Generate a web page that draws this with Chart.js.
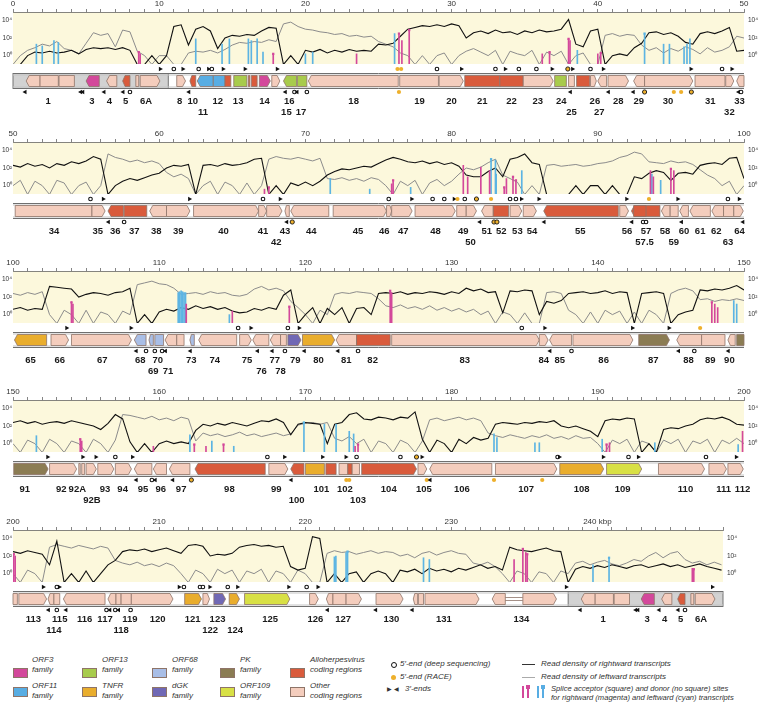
<!DOCTYPE html>
<html>
<head>
<meta charset="utf-8">
<script src="https://cdn.jsdelivr.net/npm/chart.js@4.4.1/dist/chart.umd.min.js"></script>
<style>
  body { margin: 0; background: #fff; font-family: "Liberation Sans", Arial, sans-serif; }
  #wrap { position: relative; width: 760px; height: 703px; overflow: hidden; }
  .panel { position: absolute; left: 0; width: 760px; height: 122px; }
  .lg { position: absolute; font-style: italic; font-size: 8px; line-height: 10px; color: #333; white-space: nowrap; }
  .sw { position: absolute; width: 15px; height: 10px; border: 1px solid #8e7468; box-sizing: border-box; }
</style>
</head>
<body>
<div id="wrap">
  <div class="panel" style="top:0px"><canvas id="p1" width="760" height="122"></canvas></div>
  <div class="panel" style="top:130px"><canvas id="p2" width="760" height="122"></canvas></div>
  <div class="panel" style="top:259px"><canvas id="p3" width="760" height="122"></canvas></div>
  <div class="panel" style="top:388px"><canvas id="p4" width="760" height="122"></canvas></div>
  <div class="panel" style="top:518px"><canvas id="p5" width="760" height="122"></canvas></div>

  <!-- legend: gene families -->
  <div class="sw" style="left:13px;top:668px;background:#d3489b"></div>
  <div class="lg" style="left:32px;top:655px">ORF3<br>family</div>
  <div class="sw" style="left:82px;top:668px;background:#a8cb4c"></div>
  <div class="lg" style="left:102px;top:655px">ORF13<br>family</div>
  <div class="sw" style="left:152px;top:668px;background:#a9bee6"></div>
  <div class="lg" style="left:172px;top:655px">ORF68<br>family</div>
  <div class="sw" style="left:220px;top:668px;background:#8b7c53"></div>
  <div class="lg" style="left:240px;top:655px">PK<br>family</div>
  <div class="sw" style="left:290px;top:668px;background:#d95b3c"></div>
  <div class="lg" style="left:310px;top:655px">Alloherpesvirus<br>coding regions</div>

  <div class="sw" style="left:13px;top:687px;background:#58ade3"></div>
  <div class="lg" style="left:32px;top:681px">ORF11<br>family</div>
  <div class="sw" style="left:82px;top:687px;background:#e9ad2d"></div>
  <div class="lg" style="left:102px;top:681px">TNFR<br>family</div>
  <div class="sw" style="left:152px;top:687px;background:#7068b5"></div>
  <div class="lg" style="left:172px;top:681px">dGK<br>family</div>
  <div class="sw" style="left:220px;top:687px;background:#d8e045"></div>
  <div class="lg" style="left:240px;top:681px">ORF109<br>family</div>
  <div class="sw" style="left:290px;top:687px;background:#f4cdbd"></div>
  <div class="lg" style="left:310px;top:681px">Other<br>coding regions</div>

  <!-- legend: ends -->
  <div style="position:absolute;left:391px;top:662px;width:4px;height:4px;border:1px solid #111;border-radius:50%"></div>
  <div class="lg" style="left:400px;top:659px">5′-end (deep sequencing)</div>
  <div style="position:absolute;left:391px;top:675px;width:5px;height:5px;background:#eeb02c;border-radius:50%"></div>
  <div class="lg" style="left:400px;top:672px">5′-end (RACE)</div>
  <div class="lg" style="left:387px;top:684px;font-style:normal;font-size:6px">&#9654; &#9664;</div>
  <div class="lg" style="left:405px;top:684px">3′-ends</div>

  <!-- legend: read density and splice sites -->
  <div style="position:absolute;left:522px;top:664px;width:13px;height:1px;background:#333"></div>
  <div class="lg" style="left:541px;top:659px">Read density of rightward transcripts</div>
  <div style="position:absolute;left:522px;top:677px;width:13px;height:1px;background:#aaa"></div>
  <div class="lg" style="left:541px;top:672px">Read density of leftward transcripts</div>
  <div style="position:absolute;left:522px;top:686px;width:1.5px;height:12px;background:#d3489b"></div>
  <div style="position:absolute;left:527px;top:686px;width:1.5px;height:12px;background:#d3489b"></div>
  <div style="position:absolute;left:526px;top:685px;width:3.5px;height:3.5px;background:#d3489b"></div>
  <div style="position:absolute;left:537px;top:686px;width:1.5px;height:12px;background:#58ade3"></div>
  <div style="position:absolute;left:542px;top:686px;width:1.5px;height:12px;background:#58ade3"></div>
  <div style="position:absolute;left:541px;top:685px;width:3.5px;height:3.5px;background:#58ade3"></div>
  <div class="lg" style="left:551px;top:684px;font-size:7.6px;line-height:9px">Splice acceptor (square) and donor (no square) sites<br>for rightward (magenta) and leftward (cyan) transcripts</div>
</div>

<script>
// read density, log10 values sampled every 0.5 kbp (-1 = no reads)
const STEP = 0.5;

const right1 = [-1,-1,0,0.4,0.3,0.5,0.3,0.4,0.6,0.2, 0.7,0.9,0.8,0.9,0.7,0.9,0.6,-1,-1,0, -1,0,3.3,3.5,1.2,3.0,3.3,2.8,0.8,2.0,
  2.3,2.2,2.4,2.3,2.8,3.2,3.1,-1,0,-1, 0.6,0.4,0.7,0.3,0.6,0.4,0.7,0.5,0.6,0.5, 1.3,1.2,1.4,2.2,3.0,3.2,3.4,3.3,3.5,3.3,
  3.6,3.4,2.0,2.6,2.8,2.5,2.9,2.6,2.7,2.4, 2.8,2.6,2.9,2.7,2.8,3.0,4.1,1.3,1.0,2.8, 3.0,-1,0,0.2,0,0.9,1.4,2.6,2.7,2.4,
  2.6,2.2,1.5,1.3,2.5,2.7,2.5,2.8,3.2,0.5, 0.6];
const left1 = [-1,0,0.6,0.9,1.3,1.1,1.6,0.8,0.6,0.2, 1.4,2.6,2.3,2.5,1.0,2.9,2.7,0.5,0,-1, 0,0,-1,-1,0.3,0.5,0.4,0.6,0.3,0.7,
  1.2,1.5,1.4,1.6,1.5,1.8,1.6,3.6,3.8,3.3, 3.0,2.9,2.7,2.6,2.4,2.5,2.2,2.3,2.1,2.2, 1.6,1.3,1.0,0.3,0,-1,0,-1,0,0.3,
  -1,0,0.5,0.8,0.4,0,0.6,-1,0.5,0.2, 0,0.6,-1,0.4,0,0.5,-1,0,0.3,-1, -1,2.3,2.5,2.2,2.4,2.3,1.2,0.6,0.9,0.3,
  0.8,0.5,1.0,0.7,0.2,0.9,0.4,0.6,1.0,2.2, 2.0];

const right2 = [2.3,2.1,2.5,2.2,2.4,2.0,2.5,2.3,2.7,2.5, 2.8,3.3,3.0,-1,0,0.5,0.8,0.6,0.9,1.2, 1.4,2.0,2.3,2.2,2.4,-1,2.3,2.4,2.2,2.5,
  2.3,2.4,2.6,3.0,3.1,-1,0,-1,0.3,0, 0.4,0,0.5,1.2,1.6,1.9,1.8,2.0,2.2,2.1, 2.5,2.9,3.2,3.0,2.7,2.6,2.8,2.5,2.7,2.4,
  2.6,2.2,1.2,1.0,1.0,1.6,2.0,1.0,3.0,3.2, 3.6,2.6,2.4,-1,-1,-1,-1,0,-1,0, 0,-1,0,-1,-1,1.0,0.8,1.4,1.7,1.5,
  0.6,1.4,1.5,1.3,2.3,2.5,2.6,2.4,3.1,3.2, 0.8];
const left2 = [0,0.6,-1,0.5,0,-1,0.6,0.3,-1,0, 0.4,-1,0,3.6,3.2,3.0,2.7,2.9,2.6,2.8, 2.5,1.5,1.0,1.3,0.8,-1,0,0.5,-1,0.4,
  0,-1,0.3,-1,0,3.0,3.3,3.1,3.0,3.2, 3.0,2.8,3.1,0.8,0.7,0.9,0.6,0.8,0.5,0.9, 0.7,0,-1,0.5,0,0.6,-1,0.3,0.7,0,
  0.5,1.3,2.0,1.8,2.1,2.6,3.0,1.2,0.8,0.4, -1,0,-1,2.3,2.4,2.2,2.3,2.4,2.2,2.3, 2.5,2.6,2.8,3.2,3.4,3.8,3.6,2.7,2.6,2.5,
  2.8,2.6,2.7,2.4,1.8,1.2,0.8,0,0.5,-1, 0];

const right3 = [0.6,0.8,0.5,0.7,0.6,3.2,3.1,3.0,2.9,2.0, 2.3,2.5,2.4,2.2,2.5,2.6,3.0,-1,0,-1, 0.3,0.6,0.4,0.8,0.6,1.0,0.7,0.9,0.6,0.8,
  0.4,0.2,0.3,0.7,0.5,0.8,0.6,2.2,2.8,-1, 0,0.8,-1,0.7,0,0.8,-1,0.7,0.8,0, 2.4,2.5,2.4,2.6,2.3,2.5,2.4,2.6,2.5,2.3,
  2.6,2.4,3.0,2.7,2.9,2.5,2.6,0.2,2.7,2.6, 2.8,2.7,0,1.5,1.3,1.6,2.4,2.5,2.6,2.4, 2.5,2.7,2.4,2.6,2.5,-1,2.4,2.5,2.6,2.4,
  -1,0,0.3,0.5,2.8,2.7,2.9,2.8,3.0,3.3, 2.8];
const left3 = [2.4,2.2,2.5,2.3,2.6,0,-1,0.5,0,-1, 0.5,-1,0.3,0,-1,0.4,0,3.4,3.6,3.8, 3.5,3.4,3.0,2.3,2.4,2.5,2.3,2.6,2.4,2.5,
  2.2,2.1,2.3,2.9,3.2,2.8,3.0,2.7,1.5,0.8, 0,-1,0.5,0,2.3,2.5,2.4,2.6,2.5,2.4, 1.8,1.0,0.8,1.1,0.7,0.9,0.6,1.0,0.5,0.8,
  0.4,0.7,0.3,0.6,0,0.4,-1,0.3,0,-1, 0.2,-1,-1,2.5,2.6,2.4,0.5,0,-1,0.3, -1,0.5,0,0.4,-1,0.3,-1,0.5,0,-1,
  2.4,2.8,3.0,2.7,1.7,1.8,1.5,1.7,1.6,1.8, 1.6];

const right4 = [2.4,2.6,2.3,2.5,2.2,2.4,2.5,2.3,2.6,2.4, 2.2,2.0,1.6,2.3,3.3,2.8,0.2,-1,0,-1, 0,0.3,0,0.2,0,1.5,2.2,2.0,2.3,2.1,
  2.4,2.2,2.0,2.3,2.6,2.5,2.8,2.4,1.0,2.2, 2.4,2.3,2.2,0,2.2,2.4,3.3,3.5,2.8,2.7, 3.0,2.9,2.7,3.0,2.9,3.6,0.5,-1,0.4,0,
  -1,0.5,0,0.7,0.4,0.6,2.2,2.4,2.3,2.2, 2.4,2.3,2.5,2.4,2.6,2.0,1.8,2.0,1.7,1.4, 0.8,2.6,2.8,2.7,2.9,2.8,-1,0,-1,1.6,
  1.8,1.7,2.0,2.2,2.7,2.9,2.8,3.0,2.7,2.2, 2.1];
const left4 = [0,-1,0.4,0,-1,0.5,0,-1,0.3,0, -1,0.5,0,-1,0.4,3.3,3.2,3.0,2.8,3.1, 2.7,2.9,2.6,3.0,2.8,0.3,1.2,0.9,1.1,0.8,
  1.0,1.3,0.9,1.1,0.8,1.0,1.2,0.9,1.1,2.1, 2.3,2.4,2.2,2.4,0.6,0.3,0.8,0,0.5,-1, 0.3,0,-1,0.4,0,-1,0.3,2.7,2.9,2.6,
  2.8,3.0,2.7,2.9,2.6,1.2,0.9,0.7,1.0,0.8, 0.6,0.9,0.7,1.0,0.6,0.8,0.5,0.9,0.6,0.7, 0,-1,0.4,0,0.5,-1,0.3,0,-1,0.4,
  0,0.5,-1,0.3,0,0.5,-1,0.4,0,0.6, 0];

const right5 = [2.5,2.3,2.6,2.4,2.2,1.0,3.7,-1,0,-1, 0.3,-1,0,1.0,1.5,2.5,2.7,2.6,2.8,2.5, 2.7,2.9,2.6,2.3,3.2,3.3,3.1,2.0,2.2,2.1,
  2.3,3.0,3.2,3.3,3.1,3.2,3.0,3.1,0.8,0.4, 0.6,4.2,4.0,-1,0,-1,0,0.2,-1,0, 0.3,0,-1,0.4,0.2,0.5,0,0.6,0.3,0.5,
  0.2,0.6,0.4,0.7,1.0,0.6,0.8,0.4,3.0,2.7, 2.6,2.5,2.7,2.9,2.6,2.5,-1,0.5,0.8,0.6, 0.9,0.7,1.0,0.8,0.6,0.9,1.0,0.7,0.9,1.1,
  0.8,1.0,0.7,0.9,1.1,0.8,0.6,0.4];
const left5 = [0,-1,0.4,0,-1,3.0,3.3,3.1,2.9,3.2, 3.0,2.8,3.1,2.9,1.5,1.2,1.0,1.3,0.9,1.1, 0.8,1.2,0.9,0,-1,0.4,0,-1,0.5,0,
  0.4,-1,0.3,0,0.5,-1,0.3,0,-1,0.4, 0,-1,-1,2.3,2.6,2.4,2.5,2.2,2.4,2.6, 2.3,2.5,2.4,2.0,2.2,1.8,2.3,2.5,2.1,2.4,
  2.6,2.3,2.2,1.2,1.0,1.3,0.8,0,-1,0.3, 0,-1,0.2,0,-1,0.3,0,1.2,1.4,1.0, 1.3,1.5,1.1,0.9,1.2,1.6,1.4,2.0,2.4,1.8,
  2.3,2.5,1.6,1.2,1.4,1.0,1.3,1.0];

// splice sites: [kbp, log10 height, m = rightward / c = leftward, 1 = acceptor]
const splice1 = [[1.6,1.3,'c',0],[2.0,1.1,'c',0],[2.8,1.7,'c',0],[3.1,1.5,'c',0],[8.6,0.4,'m',1],[8.7,0.2,'m',0],
  [12.5,1.9,'c',0],[14.3,1.3,'c',0],[14.8,1.9,'c',0],[16.1,1.9,'c',0],[16.3,1.7,'c',0],[16.7,1.9,'c',0],[17.1,0.4,'c',0],
  [17.8,0.2,'m',1],[20.0,0.2,'c',0],[20.5,0.4,'c',0],[23.5,0.2,'m',0],[26.1,2.5,'c',0],[26.4,2.5,'m',1],[26.6,1.7,'m',0],
  [27.1,2.9,'m',1],[36.2,0.2,'m',0],[36.7,0.4,'m',1],[38.0,1.9,'m',1],[38.1,1.7,'m',0],[38.6,0.6,'c',0],[40.0,0.2,'m',0],
  [40.2,0.3,'m',1],[43.2,2.5,'c',1],[44.5,1.3,'c',0],[44.9,1.3,'c',0],[45.9,1.0,'c',0],[46.1,1.3,'c',0],[46.3,1.9,'c',0]];
const splice2 = [[67.2,-0.4,'m',0],[67.5,-0.2,'m',1],[71.7,0.8,'c',0],[74.4,-0.4,'c',0],[75.9,0.2,'m',0],[76.0,0.6,'m',1],
  [77.2,-0.2,'c',0],[80.8,2.3,'m',0],[81.1,1.0,'m',0],[82.0,2.1,'m',0],[82.6,1.7,'m',0],[82.7,3.0,'c',1],[83.0,2.9,'c',0],
  [83.05,1.3,'c',0],[83.6,-0.2,'m',1],[83.75,0.8,'m',0],[84.2,1.0,'m',1],[84.4,0.6,'m',1],[84.8,1.7,'c',0],[93.6,1.7,'m',0],
  [93.7,1.3,'c',0],[93.8,1.0,'m',0],[94.3,0.6,'c',0],[95.0,1.9,'m',1],[95.2,1.7,'m',0]];
const splice3 = [[104.0,1.4,'m',1],[104.1,1.2,'m',0],[111.3,2.5,'c',0],[111.4,2.6,'c',0],[111.5,2.7,'c',0],[111.6,2.6,'c',0],
  [111.7,2.5,'c',0],[111.8,2.5,'c',0],[111.85,1.2,'m',0],[114.8,0,'c',0],[115.0,0.4,'m',0],[118.9,0.9,'m',1],[125.8,2.7,'m',1],
  [125.9,2.5,'m',0],[147.8,1.4,'m',1],[148.0,1.2,'m',0],[148.2,0.8,'m',0],[149.3,1.6,'c',0],[149.5,1.2,'c',0]];
const splice4 = [[151.6,0.9,'c',0],[154.6,0.5,'m',1],[154.7,0.3,'m',0],[159.6,-0.3,'m',0],[162.1,1.0,'c',0],[162.4,-0.1,'m',1],
  [163.2,-0.3,'m',0],[163.6,0.3,'c',0],[164.4,-0.1,'m',1],[165.1,-0.3,'c',0],[169.9,2.4,'c',1],[171.3,2.2,'c',0],[172.1,2.2,'c',0],
  [173.0,1.4,'c',0],[173.3,1.1,'c',0],[173.4,-0.3,'m',0],[173.6,-0.1,'m',1],[182.9,1.1,'c',0],[183.1,0.7,'c',0],[185.7,0.1,'c',0],
  [186.0,0.1,'c',0],[190.3,0.5,'c',0],[190.6,-0.1,'m',1],[190.8,0.1,'m',0],[193.9,0.1,'c',0],[199.6,-0.1,'c',0],[199.9,1.4,'m',0]];
const splice5 = [[200.05,2.2,'m',1],[200.15,2.0,'m',0],[222.0,1.9,'c',0],[222.1,2.0,'c',0],[222.8,2.4,'c',0],[222.9,2.5,'c',1],
  [228.1,1.8,'c',0],[228.5,1.6,'c',0],[234.3,1.6,'m',0],[234.9,2.8,'m',1],[235.1,2.4,'m',0],[235.2,2.2,'m',1],[239.7,1.0,'c',0],
  [240.8,1.8,'c',1],[246.5,0.6,'m',0],[246.6,0.5,'m',1]];

// coding regions: [start, end, family, direction]
const genes1 = [[0.9,1.85,'o',-1],[1.85,3.1,'o',0],[3.15,4.2,'o',0],[5.0,5.9,'f3',-1],[6.4,7.1,'o',-1],[7.5,8.0,'a',-1],
  [8.4,8.6,'o',0],[8.7,10.05,'o',1],[11.2,11.8,'o',1],[12.1,12.5,'a',-1],[12.6,13.7,'f11',-1],[13.7,14.5,'f11',0],
  [14.5,14.9,'a',0],[15.1,16.0,'f13',0],[16.1,16.2,'a',0],[16.3,16.7,'a',0],[16.85,17.6,'f3',1],[17.7,18.25,'o',1],
  [18.5,19.4,'f13',-1],[19.45,20.1,'f13',0],[20.2,26.35,'o',-1],[26.45,29.1,'o',0],[29.15,30.8,'o',1],[30.9,33.3,'a',0],
  [33.3,34.9,'a',0],[34.9,36.95,'o',1],[37.05,37.85,'f13',0],[38.0,38.4,'o',0],[38.55,39.45,'a',0],[39.5,39.9,'o',1],
  [40.0,40.6,'o',-1],[40.7,42.1,'o',1],[42.45,43.2,'o',-1],[43.2,46.5,'o',1],[46.65,48.7,'o',0],[48.75,49.3,'o',1],[49.5,50.0,'o',-1]];
const genes2 = [[50.15,55.4,'o',0],[55.4,56.3,'o',1],[56.5,57.55,'a',-1],[57.6,59.15,'a',0],[59.35,60.5,'o',-1],[60.5,62.1,'o',1],
  [62.35,66.8,'o',1],[66.8,67.35,'o',1],[67.35,68.4,'o',1],[68.6,68.9,'o',-1],[69.0,71.6,'o',-1],[71.9,75.55,'o',1],
  [75.55,75.9,'o',1],[75.9,77.3,'o',1],[77.5,80.25,'o',1],[80.35,81.0,'o',0],[81.0,81.7,'o',1],[82.05,82.85,'o',-1],
  [82.85,83.9,'a',0],[84.0,84.8,'o',1],[84.9,85.8,'o',1],[86.3,91.4,'a',-1],[91.5,92.1,'o',1],[92.3,94.25,'a',-1],
  [92.45,93.3,'a',0],[94.35,94.95,'o',-1],[94.95,95.5,'o',0],[95.6,96.2,'o',-1],[96.3,97.7,'o',-1],[97.8,98.6,'o',-1],
  [98.6,99.3,'o',0],[99.3,99.95,'o',1]];
const genes3 = [[100.1,102.3,'tn',-1],[102.6,103.8,'o',1],[104.0,108.1,'o',1],[108.3,109.1,'f68',-1],[109.3,109.6,'f68',-1],
  [109.7,110.3,'f68',0],[110.4,111.2,'o',-1],[111.2,111.7,'o',0],[112.1,112.4,'f68',-1],[112.7,115.3,'o',-1],[115.5,116.3,'o',1],
  [116.4,117.5,'o',-1],[117.6,118.3,'o',-1],[118.3,118.7,'o',0],[118.8,119.7,'dg',1],[119.8,122.0,'tn',1],[122.1,123.5,'o',-1],
  [123.5,125.8,'a',0],[125.9,136.0,'o',1],[136.0,136.6,'o',1],[136.7,138.2,'o',-1],[138.3,142.4,'o',1],[142.8,144.9,'pk',1],
  [145.4,147.1,'o',-1],[147.1,148.7,'o',0],[148.9,149.4,'o',-1],[149.5,150.0,'pk',0]];
const genes4 = [[150.05,152.4,'pk',1],[152.5,154.35,'o',1],[154.5,154.6,'o',0],[154.7,154.9,'o',0],[155.0,155.7,'o',1],
  [155.8,156.9,'o',1],[157.0,158.1,'o',1],[158.3,159.5,'o',-1],[159.6,160.5,'o',-1],[160.7,162.1,'o',-1],[162.45,167.25,'a',-1],
  [167.5,168.8,'o',1],[169.0,169.9,'a',-1],[170.0,171.3,'tn',0],[171.4,172.1,'a',0],[172.3,172.9,'o',0],[172.9,173.2,'a',0],
  [173.2,173.7,'o',0],[173.85,177.6,'a',1],[177.7,178.3,'o',1],[178.5,182.75,'o',-1],[183.0,187.2,'o',1],[187.4,190.4,'tn',1],
  [190.6,193.0,'f109',1],[194.15,197.3,'o',1],[197.6,198.8,'o',1],[198.9,199.95,'o',1]];
const genes5 = [[200.0,200.3,'o',0],[200.4,202.3,'o',1],[202.4,202.8,'o',-1],[202.8,203.2,'o',0],[203.45,206.3,'o',-1],
  [206.5,207.05,'o',-1],[207.05,207.4,'o',0],[207.4,208.1,'o',0],[208.1,210.95,'o',1],[211.75,212.9,'tn',1],[213.0,213.45,'o',1],
  [213.75,214.55,'dg',1],[214.8,215.5,'tn',1],[215.85,218.95,'f109',1],[220.3,220.9,'o',1],[221.45,221.9,'o',-1],
  [221.9,222.8,'o',0],[222.8,223.85,'o',1],[224.85,226.7,'o',1],[227.4,227.7,'o',-1],[227.75,228.1,'o',0],[228.2,231.9,'o',1],
  [232.8,233.7,'o',-1],[233.7,234.9,'ln',0],[234.9,237.2,'o',1],[238.9,239.85,'o',-1],[239.85,241.1,'o',0],[241.15,242.2,'o',0],
  [243.0,243.9,'f3',-1],[244.4,245.1,'o',-1],[245.5,246.0,'a',-1],[246.4,246.6,'o',0],[246.7,248.05,'o',1]];

// terminal repeat shading
const repeat1 = [[0, 10.62]];
const repeat5 = [[238.0, 248.6]];

// gene names: [kbp, name, row]
const names1 = [[2.4,'1',0],[5.4,'3',0],[6.6,'4',0],[7.7,'5',0],[9.1,'6A',0],[11.4,'8',0],[12.3,'10',0],[13.0,'11',1],[14.0,'12',0],
  [15.4,'13',0],[17.2,'14',0],[18.7,'15',1],[18.9,'16',0],[19.7,'17',1],[23.3,'18',0],[27.8,'19',0],[30.0,'20',0],[32.1,'21',0],
  [34.1,'22',0],[35.9,'23',0],[37.5,'24',0],[38.2,'25',1],[39.8,'26',0],[40.1,'27',1],[41.4,'28',0],[42.8,'29',0],[44.8,'30',0],
  [47.7,'31',0],[49.0,'32',1],[49.7,'33',0]];
const names2 = [[52.8,'34',0],[55.8,'35',0],[57.0,'36',0],[58.3,'37',0],[59.8,'38',0],[61.3,'39',0],[64.4,'40',0],[67.1,'41',0],
  [68.0,'42',1],[68.6,'43',0],[70.4,'44',0],[73.6,'45',0],[75.4,'46',0],[76.7,'47',0],[78.9,'48',0],[80.8,'49',0],[81.3,'50',1],
  [82.4,'51',0],[83.4,'52',0],[84.5,'53',0],[85.5,'54',0],[88.8,'55',0],[92.0,'56',0],[93.3,'57',0],[93.2,'57.5',1],[94.6,'58',0],
  [95.2,'59',1],[95.9,'60',0],[97.0,'61',0],[98.1,'62',0],[98.9,'63',1],[99.7,'64',0]];
const names3 = [[101.2,'65',0],[103.2,'66',0],[106.1,'67',0],[108.7,'68',0],[109.6,'69',1],[109.9,'70',0],[110.6,'71',1],
  [112.2,'73',0],[113.8,'74',0],[116.0,'75',0],[117.0,'76',1],[117.9,'77',0],[118.3,'78',1],[119.3,'79',0],[120.9,'80',0],
  [122.8,'81',0],[124.6,'82',0],[130.9,'83',0],[136.3,'84',0],[137.4,'85',0],[140.4,'86',0],[143.8,'87',0],[146.2,'88',0],
  [147.7,'89',0],[149.0,'90',0]];
const names4 = [[150.8,'91',0],[153.3,'92',0],[154.4,'92A',0],[155.4,'92B',1],[156.3,'93',0],[157.5,'94',0],[158.9,'95',0],
  [160.1,'96',0],[161.5,'97',0],[164.8,'98',0],[168.0,'99',0],[169.4,'100',1],[171.1,'101',0],[172.7,'102',0],[173.6,'103',1],
  [175.7,'104',0],[178.1,'105',0],[180.7,'106',0],[185.1,'107',0],[188.9,'108',0],[191.7,'109',0],[196.0,'110',0],[198.6,'111',0],
  [199.9,'112',0]];
const names5 = [[201.4,'113',0],[202.8,'114',1],[203.2,'115',0],[204.9,'116',0],[206.3,'117',0],[207.4,'118',1],[208.0,'119',0],
  [209.9,'120',0],[212.3,'121',0],[213.5,'122',1],[214.0,'123',0],[215.2,'124',1],[217.6,'125',0],[220.7,'126',0],[222.6,'127',0],
  [225.9,'130',0],[229.5,'131',0],[234.8,'134',0],[240.4,'1',0],[243.4,'3',0],[244.6,'4',0],[245.7,'5',0],[247.1,'6A',0]];

// transcript ends: o = 5' deep sequencing, r = 5' RACE, ro = both, t = 3' end
const above1 = [[10.1,'t'],[11.0,'o'],[11.65,'t'],[12.7,'o'],[13.4,'t'],[13.6,'o'],[14.4,'t'],[15.9,'t'],[18.1,'t'],[26.3,'r'],
  [26.55,'r'],[29.0,'o'],[30.7,'t'],[33.0,'o'],[33.7,'t'],[34.6,'o'],[35.8,'o'],[36.9,'t'],[37.95,'ro'],[38.3,'t'],[39.5,'o'],
  [40.4,'t'],[46.4,'t'],[48.5,'o'],[49.2,'t']];
const below1 = [[0.8,'t'],[4.6,'t'],[4.75,'t'],[6.2,'t'],[7.5,'t'],[8.0,'o'],[12.0,'t'],[18.6,'t'],[19.25,'o'],[19.4,'t'],
  [20.1,'o'],[26.4,'r'],[38.1,'t'],[40.7,'t'],[42.4,'t'],[43.2,'ro'],[45.2,'r'],[45.7,'r'],[46.4,'ro'],[49.6,'t'],[49.8,'o']];
const above2 = [[55.3,'o'],[56.2,'t'],[62.1,'t'],[67.1,'o'],[68.3,'t'],[75.7,'o'],[77.3,'t'],[78.7,'o'],[79.5,'o'],[80.2,'t'],
  [80.4,'r'],[80.9,'o'],[81.7,'ro'],[82.7,'r'],[84.0,'o'],[84.4,'o'],[84.8,'t'],[86.0,'t'],[92.0,'t'],[93.5,'r'],[95.5,'t'],
  [98.9,'o'],[99.7,'t']];
const below2 = [[56.5,'t'],[57.6,'o'],[68.7,'t'],[69.1,'ro'],[81.9,'t'],[82.9,'ro'],[83.1,'ro'],[86.3,'t'],[92.3,'t'],[93.1,'o'],
  [93.3,'o'],[95.7,'t'],[99.9,'t']];
const above3 = [[103.7,'t'],[108.1,'t'],[115.4,'o'],[116.3,'t'],[118.8,'o'],[119.6,'t'],[134.8,'o'],[136.4,'t'],[142.4,'t'],
  [144.9,'t'],[147.0,'r']];
const below3 = [[108.4,'t'],[109.1,'o'],[109.7,'o'],[110.2,'o'],[110.4,'t'],[112.1,'t'],[116.7,'t'],[117.7,'t'],[118.6,'o'],
  [119.9,'t'],[122.2,'t'],[123.6,'o'],[136.7,'t'],[138.2,'o'],[145.5,'t'],[146.6,'o'],[148.9,'t']];
const above4 = [[152.4,'t'],[154.8,'t'],[155.7,'t'],[157.0,'o'],[158.2,'t'],[167.4,'o'],[168.6,'t'],[171.2,'t'],[172.8,'t'],
  [173.5,'o'],[176.5,'o'],[177.6,'ro'],[178.0,'t'],[187.25,'o'],[187.4,'t'],[190.4,'t'],[192.1,'o'],[192.8,'t'],[197.4,'o'],[199.5,'t']];
const below4 = [[158.4,'t'],[159.5,'o'],[159.7,'t'],[160.9,'t'],[162.2,'ro'],[169.0,'t'],[172.8,'r'],[173.0,'r'],[178.3,'r'],
  [178.5,'t'],[182.9,'r'],[186.2,'r']];
const above5 = [[202.1,'t'],[203.0,'o'],[203.2,'t'],[211.4,'t'],[211.7,'o'],[212.8,'o'],[213.0,'o'],[213.5,'t'],[214.7,'o'],
  [215.4,'t'],[218.9,'t'],[220.1,'o'],[220.9,'t'],[237.9,'t'],[247.9,'t']];
const below5 = [[202.4,'t'],[203.0,'o'],[203.6,'t'],[206.4,'o'],[206.6,'t'],[207.0,'o'],[207.2,'t'],[208.05,'o'],[221.5,'t'],
  [224.8,'t'],[227.3,'t'],[238.8,'t'],[242.6,'t'],[242.75,'t'],[244.2,'t'],[245.5,'t'],[246.0,'o']];

const FONT = '"Liberation Sans", Arial, sans-serif';
const MAGENTA = '#d3489b';
const CYAN = '#5cb4e3';
const FAMILY = { o: '#f4cdbd', a: '#d95b3c', f3: '#d3489b', f11: '#58ade3', f13: '#a8cb4c', tn: '#e9ad2d',
  f68: '#a9bee6', dg: '#7068b5', pk: '#8b7c53', f109: '#d8e045' };
const Y_MIN = -0.95, Y_MAX = 4.95;
const yTickVals = [0, 2, 4];
const yTickText = { 0: '10⁰', 2: '10²', 4: '10⁴' };

function drawGene(ctx, x1, x2, y1, y2, dir, fam) {
  ctx.strokeStyle = '#8e7468';
  ctx.lineWidth = 0.8;
  const m = (y1 + y2) / 2;
  if (fam === 'ln') {
    ctx.beginPath();
    ctx.moveTo(x1, m - 1.5); ctx.lineTo(x2, m - 1.5);
    ctx.moveTo(x1, m + 1.5); ctx.lineTo(x2, m + 1.5);
    ctx.stroke();
    return;
  }
  const t = Math.min(3, (x2 - x1) / 3);
  ctx.beginPath();
  if (dir > 0) {
    ctx.moveTo(x1, y1); ctx.lineTo(x2 - t, y1); ctx.lineTo(x2, m); ctx.lineTo(x2 - t, y2); ctx.lineTo(x1, y2);
  } else if (dir < 0) {
    ctx.moveTo(x2, y1); ctx.lineTo(x1 + t, y1); ctx.lineTo(x1, m); ctx.lineTo(x1 + t, y2); ctx.lineTo(x2, y2);
  } else {
    ctx.rect(x1, y1, x2 - x1, y2 - y1);
  }
  ctx.closePath();
  ctx.fillStyle = FAMILY[fam];
  ctx.fill();
  ctx.stroke();
}

function drawMark(ctx, type, cx, cy, rightward) {
  if (type === 't') {
    ctx.fillStyle = '#111';
    ctx.beginPath();
    if (rightward) {
      ctx.moveTo(cx - 1.8, cy - 2.3); ctx.lineTo(cx + 2.2, cy); ctx.lineTo(cx - 1.8, cy + 2.3);
    } else {
      ctx.moveTo(cx + 1.8, cy - 2.3); ctx.lineTo(cx - 2.2, cy); ctx.lineTo(cx + 1.8, cy + 2.3);
    }
    ctx.closePath();
    ctx.fill();
    return;
  }
  ctx.beginPath();
  ctx.arc(cx, cy, type === 'o' ? 1.8 : 2.1, 0, Math.PI * 2);
  if (type === 'o') {
    ctx.fillStyle = '#fff'; ctx.fill();
    ctx.lineWidth = 1.1; ctx.strokeStyle = '#111'; ctx.stroke();
  } else {
    ctx.fillStyle = '#eeb02c'; ctx.fill();
    if (type === 'ro') { ctx.lineWidth = 0.9; ctx.strokeStyle = '#111'; ctx.stroke(); }
  }
}

// gene map under each read-density plot, placed with the chart's x scale
function trackPlugin(genes, names, above, below, repeats) {
  return {
    id: 'track',
    beforeDraw(chart) {
      const a = chart.chartArea;
      chart.ctx.save();
      chart.ctx.fillStyle = '#fcf8dc';
      chart.ctx.fillRect(a.left, a.top, a.right - a.left, a.bottom - a.top);
      chart.ctx.restore();
    },
    afterDraw(chart) {
      const ctx = chart.ctx;
      const xs = chart.scales.x;
      const px = v => xs.getPixelForValue(v);
      const a = chart.chartArea;
      const b = a.bottom;
      const bt = b + 9.5, bb = b + 24.5;
      ctx.save();

      repeats.forEach(r => {
        ctx.fillStyle = '#d2d2d2';
        ctx.fillRect(px(r[0]), bt, px(r[1]) - px(r[0]), bb - bt);
        ctx.strokeStyle = '#666';
        ctx.lineWidth = 0.9;
        ctx.strokeRect(px(r[0]), bt, px(r[1]) - px(r[0]), bb - bt);
      });

      ctx.strokeStyle = '#6f6f6f';
      ctx.lineWidth = 1;
      ctx.beginPath();
      ctx.moveTo(a.left, bt); ctx.lineTo(xs.right, bt);
      ctx.moveTo(a.left, bb); ctx.lineTo(xs.right, bb);
      ctx.stroke();
      ctx.strokeStyle = '#c4c4c4';
      ctx.beginPath();
      ctx.moveTo(a.left, bt + 1.5); ctx.lineTo(xs.right, bt + 1.5);
      ctx.moveTo(a.left, bb - 1.5); ctx.lineTo(xs.right, bb - 1.5);
      ctx.stroke();

      genes.forEach(g => drawGene(ctx, px(g[0]), px(g[1]), b + 11.5, b + 22.5, g[3], g[2]));
      above.forEach(m => drawMark(ctx, m[1], px(m[0]), b + 5, true));
      below.forEach(m => drawMark(ctx, m[1], px(m[0]), b + 28, false));

      ctx.fillStyle = '#1a1a1a';
      ctx.font = 'bold 9.5px ' + FONT;
      ctx.textAlign = 'center';
      ctx.textBaseline = 'middle';
      names.forEach(n => ctx.fillText(n[1], px(n[0]), b + (n[2] ? 48.5 : 37.5)));
      ctx.restore();
    }
  };
}

function yAxis(position, width) {
  return {
    type: 'linear', position: position, min: Y_MIN, max: Y_MAX,
    afterFit: s => { s.width = width; },
    afterBuildTicks: s => { s.ticks = yTickVals.map(v => ({ value: v })); },
    ticks: { font: { size: 6.5, family: FONT }, color: '#333', padding: position === 'left' ? 1 : 4,
      callback: v => yTickText[v] },
    grid: { display: false, drawTicks: false },
    border: { display: false }
  };
}

function buildPanel(id, xMin, xMax, rightVals, leftVals, splices, genes, names, above, below, repeats, rightWidth) {
  const toPoints = vals => vals.map((v, i) => ({ x: xMin + i * STEP, y: v }));
  const stems = side => splices.filter(s => s[2] === side).map(s => ({ x: s[0], y: [Y_MIN, s[1]] }));
  const acc = splices.filter(s => s[3] === 1);

  new Chart(document.getElementById(id), {
    type: 'line',
    data: {
      datasets: [
        { type: 'bar', data: stems('m'), backgroundColor: MAGENTA, barThickness: 1, grouped: false, order: 0 },
        { type: 'bar', data: stems('c'), backgroundColor: CYAN, barThickness: 1, grouped: false, order: 0 },
        { type: 'scatter', data: acc.map(s => ({ x: s[0], y: s[1] })), pointStyle: 'rect', pointRadius: 1.6,
          pointBorderWidth: 0, pointBackgroundColor: acc.map(s => s[2] === 'm' ? MAGENTA : CYAN), order: 0 },
        { data: toPoints(rightVals), borderColor: '#111', borderWidth: 1.1, pointRadius: 0, tension: 0, order: 1 },
        { data: toPoints(leftVals), borderColor: '#8c8c8c', borderWidth: 1, pointRadius: 0, tension: 0, order: 2 }
      ]
    },
    options: {
      responsive: false,
      animation: false,
      events: [],
      layout: { padding: { left: 0, right: 0, top: 0, bottom: 58 } },
      plugins: { legend: { display: false }, tooltip: { enabled: false } },
      scales: {
        x: {
          type: 'linear', position: 'top', min: xMin, max: xMax, offset: false,
          afterFit: s => { s.height = 12; },
          ticks: { stepSize: 1, maxTicksLimit: 100, autoSkip: false, maxRotation: 0, padding: 0,
            font: { size: 8, family: FONT }, color: '#333',
            callback: v => v % 10 === 0 ? (v === 240 ? '240 kbp' : String(v)) : '' },
          grid: { drawOnChartArea: false, tickLength: 3, color: '#666', lineWidth: 0.8, offset: false },
          border: { color: '#666', width: 0.8 }
        },
        y: yAxis('left', 13),
        y2: yAxis('right', rightWidth)
      }
    },
    plugins: [trackPlugin(genes, names, above, below, repeats)]
  });
}

buildPanel('p1', 0, 50, right1, left1, splice1, genes1, names1, above1, below1, repeat1, 16);
buildPanel('p2', 50, 100, right2, left2, splice2, genes2, names2, above2, below2, [], 16);
buildPanel('p3', 100, 150, right3, left3, splice3, genes3, names3, above3, below3, [], 16);
buildPanel('p4', 150, 200, right4, left4, splice4, genes4, names4, above4, below4, [], 16);
buildPanel('p5', 200, 248.6, right5, left5, splice5, genes5, names5, above5, below5, repeat5, 37);
</script>
</body>
</html>
